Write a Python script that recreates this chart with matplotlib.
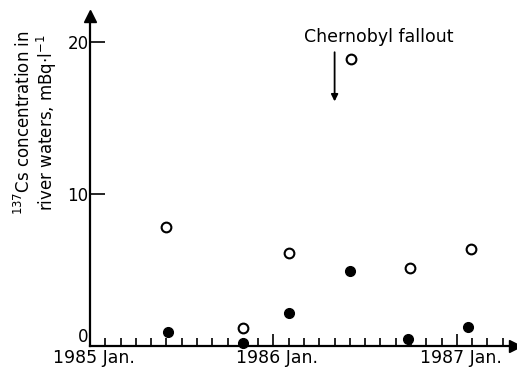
import numpy as np
import matplotlib
matplotlib.use("Agg")
import matplotlib.pyplot as plt
import matplotlib.transforms as mtransforms

# months counted from 1985 Jan. (= 0)
open_month = [5.0, 10.0, 13.0, 17.1, 20.9, 24.9]
open_value = [7.8, 1.2, 6.1, 18.9, 5.1, 6.4]
filled_month = [5.1, 10.0, 13.0, 17.0, 20.8, 24.7]
filled_value = [0.9, 0.2, 2.2, 4.9, 0.45, 1.25]
year_ticks = [0, 12, 24]
year_labels = ["1985 Jan.", "1986 Jan.", "1987 Jan."]
chernobyl_month = 16.0

fig = plt.figure(figsize=(5.17, 3.69), dpi=100)
ax = fig.add_axes([90/517, 23/369, 425/517, 330/369])
ax.set_xlim(0, 27.8)
ax.set_ylim(0, 21.7)

ax.plot(open_month, open_value, "o", ms=7, mfc="white", mec="black", mew=1.5,
        clip_on=False, zorder=3)
ax.plot(filled_month, filled_value, "o", ms=7, color="black", clip_on=False, zorder=3)

# axes
for s in ["top", "right"]:
    ax.spines[s].set_visible(False)
for s in ["left", "bottom"]:
    ax.spines[s].set_linewidth(1.6)
ax.plot([27.8], [0], ">", ms=8, color="black", clip_on=False)
ax.plot([0], [21.7], "^", ms=8, color="black", clip_on=False)

ax.set_xticks(year_ticks)
ax.set_xticklabels(year_labels, fontsize=12.5)
ax.set_xticks(np.arange(1, 28), minor=True)
ax.tick_params(axis="x", which="major", direction="in", length=9, width=1.2, pad=2)
ax.tick_params(axis="x", which="minor", direction="in", length=6, width=1.2)
shift = mtransforms.ScaledTranslation(4/100, 0, fig.dpi_scale_trans)
for lab in ax.get_xticklabels():
    lab.set_transform(lab.get_transform() + shift)
ax.set_yticks([0, 10, 20])
ax.set_yticklabels(["0", "10", "20"], fontsize=12)
ax.tick_params(axis="y", which="major", direction="in", length=11, width=1.2, pad=1)
ax.get_yticklabels()[0].set_va("bottom")

# Chernobyl marker
ax.annotate("", xy=(chernobyl_month, 15.9), xytext=(chernobyl_month, 19.5),
            arrowprops=dict(arrowstyle="-|>", color="black", lw=1.3, mutation_scale=10))
ax.text(14.0, 20.3, "Chernobyl fallout", fontsize=12.5, ha="left", va="center")

fig.text(36/517, 1 - 123/369,
         "$^{137}$Cs concentration in\nriver waters, mBq$\\cdot$l$^{-1}$",
         rotation=90, ha="center", va="center", fontsize=12, linespacing=1.05)

plt.savefig("out.png", dpi=100)
